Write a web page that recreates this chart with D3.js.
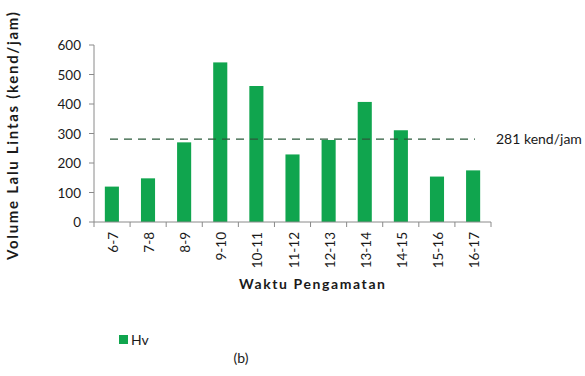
<!DOCTYPE html>
<html><head><meta charset="utf-8">
<script src="https://cdn.jsdelivr.net/npm/d3@7"></script>
<style>body{margin:0;background:#fff}svg{display:block}text{font-family:Lato,"Open Sans",sans-serif}</style>
</head><body>
<svg id="c" width="585" height="376"></svg>
<script>
const categories = ["6-7","7-8","8-9","9-10","10-11","11-12","12-13","13-14","14-15","15-16","16-17"];
const hvValues = [120,148,270,541,461,229,278,407,311,154,175];
const yTicks = [0,100,200,300,400,500,600];
const averageValue = 281;
const averageLabel = "281 kend/jam";

(function(){
const svg = d3.select("#c");
const pLeft = 94, pRight = 491, pTop = 45, pBottom = 222;
const x = d3.scaleBand().domain(categories).range([pLeft, pRight]).paddingInner(0.61).paddingOuter(0.3);
const xb = d3.scaleBand().domain(categories).range([pLeft, pRight]);
const y = d3.scaleLinear().domain([0, 600]).range([pBottom, pTop]);
const green = "#10a54e", axisCol = "#8a8a8a", ink = "#1a1a1a";

svg.selectAll("rect.bar").data(hvValues).enter().append("rect").attr("class","bar")
  .attr("x", (d,i) => x(categories[i])).attr("width", x.bandwidth())
  .attr("y", d => y(d)).attr("height", d => y(0) - y(d)).attr("fill", green);

svg.append("line").attr("x1", pLeft).attr("x2", pLeft).attr("y1", y(600)).attr("y2", y(0)).attr("stroke", axisCol);
yTicks.forEach(t => {
  svg.append("line").attr("x1", pLeft-5).attr("x2", pLeft).attr("y1", y(t)).attr("y2", y(t)).attr("stroke", axisCol);
  svg.append("text").attr("x", 81).attr("y", y(t)+5).attr("text-anchor","end").attr("font-size",13.5).attr("fill",ink).text(t);
});
svg.append("line").attr("x1", pLeft).attr("x2", pRight).attr("y1", y(0)).attr("y2", y(0)).attr("stroke", axisCol);
categories.forEach((c,i) => {
  const bx = xb(c) + xb.bandwidth();
  svg.append("line").attr("x1", bx).attr("x2", bx).attr("y1", y(0)).attr("y2", y(0)+5).attr("stroke", axisCol);
  const cx = xb(c) + xb.bandwidth()/2 + 1;
  svg.append("text").attr("transform", `translate(${cx+5},${y(0)+10}) rotate(-90)`)
    .attr("text-anchor","end").attr("font-size",13.5).attr("fill",ink).text(c);
});
svg.append("line").attr("x1", pLeft).attr("x2", pLeft).attr("y1", y(0)).attr("y2", y(0)+5).attr("stroke", axisCol);

svg.append("line").attr("x1", 110).attr("x2", 475).attr("y1", y(averageValue)).attr("y2", y(averageValue))
  .attr("stroke", "#2a5a3a").attr("stroke-width",1.2).attr("stroke-dasharray","8,6");
svg.append("text").attr("x", 496).attr("y", y(averageValue)+5).attr("font-size",14).attr("fill",ink).text(averageLabel);

svg.append("text").attr("transform", `translate(18,136) rotate(-90)`).attr("text-anchor","middle")
  .attr("font-size",15).attr("font-weight","bold").attr("fill",ink)
  .attr("textLength",248).attr("lengthAdjust","spacing").text("Volume Lalu Lintas (kend/jam)");
svg.append("text").attr("x", 312).attr("y", 289).attr("text-anchor","middle")
  .attr("font-size",14).attr("font-weight","bold").attr("fill",ink)
  .attr("textLength",146).attr("lengthAdjust","spacing").text("Waktu Pengamatan");

svg.append("rect").attr("x",119).attr("y",335).attr("width",9).attr("height",9).attr("fill",green);
svg.append("text").attr("x",131).attr("y",345).attr("font-size",14).attr("fill",ink).text("Hv");
svg.append("text").attr("x",241).attr("y",363).attr("text-anchor","middle").attr("font-size",14).attr("fill",ink).text("(b)");
})();
</script>
</body></html>
